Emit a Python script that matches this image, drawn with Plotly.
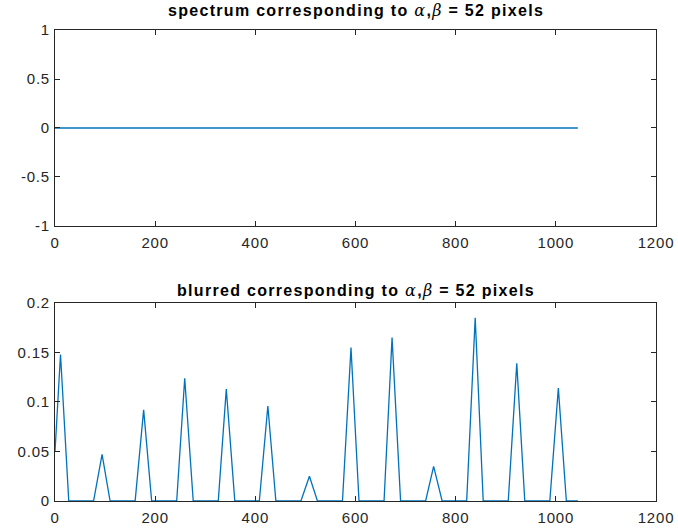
import plotly.graph_objects as go
from plotly.subplots import make_subplots

# ---- data ----
spectrum_x = [0, 1044]
spectrum_y = [0, 0]

blurred_x = [0, 11, 27.5,
             77, 94, 110,
             160, 177, 193,
             243, 259, 276,
             326, 342, 359,
             408, 425, 441,
             491, 508, 524,
             574, 591, 607,
             657, 673, 690,
             740, 756, 773,
             822, 839, 855,
             905, 922, 938,
             988, 1005, 1021,
             1044]
blurred_y = [0.05, 0.148, 0,
             0, 0.047, 0,
             0, 0.092, 0,
             0, 0.124, 0,
             0, 0.113, 0,
             0, 0.096, 0,
             0, 0.025, 0,
             0, 0.155, 0,
             0, 0.165, 0,
             0, 0.035, 0,
             0, 0.185, 0,
             0, 0.139, 0,
             0, 0.114, 0,
             0]

x_ticks = [0, 200, 400, 600, 800, 1000, 1200]
x_ticktext = ["0", "200", "400", "600", "800", "1000", "1200"]
top_yticks = [-1, -0.5, 0, 0.5, 1]
top_yticktext = ["-1", "-0.5", "0", "0.5", "1"]
bot_yticks = [0, 0.05, 0.1, 0.15, 0.2]
bot_yticktext = ["0", "0.05", "0.1", "0.15", "0.2"]

GREEK = "<i style='font-family:\"DejaVu Serif\"; font-weight:normal'>{}</i>"
title_top = "spectrum corresponding to " + GREEK.format("α") + "," + GREEK.format("β") + " = 52 pixels"
title_bot = "blurred corresponding to " + GREEK.format("α") + "," + GREEK.format("β") + " = 52 pixels"


def spaced(t, ls):
    return "<span style='letter-spacing:{}px'>{}</span>".format(ls, t)


LINE = "#0072BD"
AX = "#262626"
FONT = "Liberation Sans, Arial, sans-serif"

fig = make_subplots(rows=2, cols=1)
fig.add_trace(go.Scatter(x=spectrum_x, y=spectrum_y, mode="lines",
                         line=dict(color=LINE, width=1.3), showlegend=False), row=1, col=1)
fig.add_trace(go.Scatter(x=blurred_x, y=blurred_y, mode="lines",
                         line=dict(color=LINE, width=1.3), showlegend=False), row=2, col=1)

axis_common = dict(showgrid=False, zeroline=False, showline=True, linecolor=AX, linewidth=1,
                   mirror="ticks", ticks="inside", ticklen=5, tickcolor=AX, tickwidth=1,
                   automargin=False,
                   tickfont=dict(family=FONT, size=15, color=AX))

fig.update_xaxes(**axis_common, range=[0, 1200], tickvals=x_ticks,
                 ticktext=[spaced(t, 0.8) for t in x_ticktext], ticklabelstandoff=3)
fig.update_yaxes(**axis_common, ticklabelstandoff=1)
fig.update_yaxes(range=[-1, 1], tickvals=top_yticks,
                 ticktext=[spaced(t, 0.8) for t in top_yticktext], row=1, col=1)
fig.update_yaxes(range=[0, 0.2], tickvals=bot_yticks,
                 ticktext=[spaced(t, 0.8) for t in bot_yticktext], row=2, col=1)

fig.update_layout(
    width=678, height=531,
    margin=dict(l=55, r=22, t=30, b=30),
    paper_bgcolor="white", plot_bgcolor="white",
    xaxis=dict(domain=[0, 1]), xaxis2=dict(domain=[0, 1]),
    yaxis=dict(domain=[0.5839, 1.0]), yaxis2=dict(domain=[0.0, 0.4204]),
    annotations=[
        dict(text="<b>" + spaced(title_top, 1.3) + "</b>", x=0.5, y=1.041, xref="paper", yref="paper",
             xanchor="center", yanchor="middle", showarrow=False,
             font=dict(family=FONT, size=16, color="black")),
        dict(text="<b>" + spaced(title_bot, 1.3) + "</b>", x=0.5, y=0.4479, xref="paper", yref="paper",
             xanchor="center", yanchor="middle", showarrow=False,
             font=dict(family=FONT, size=16, color="black")),
    ],
)

fig.write_html("out.html")
